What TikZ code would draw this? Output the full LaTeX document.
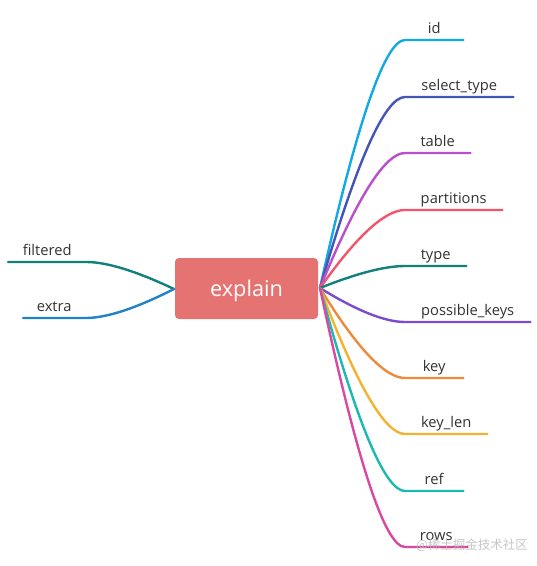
\documentclass[tikz,border=0pt]{standalone}
\usepackage{fontspec}
\setmainfont{Open Sans}
\newfontfamily\cjk{Noto Sans CJK SC}
\definecolor{cid}{HTML}{13A9E2}
\definecolor{csel}{HTML}{4356B5}
\definecolor{ctab}{HTML}{BA4FCB}
\definecolor{cpart}{HTML}{F2566C}
\definecolor{ctype}{HTML}{12807C}
\definecolor{cposs}{HTML}{7A4DCA}
\definecolor{ckey}{HTML}{F08A3B}
\definecolor{ckeylen}{HTML}{F5B231}
\definecolor{cref}{HTML}{1BB9B1}
\definecolor{crows}{HTML}{D9499F}
\definecolor{cextra}{HTML}{2182C6}
\definecolor{cbox}{HTML}{E57372}
\definecolor{ctext}{HTML}{333333}
\begin{document}
\begin{tikzpicture}[x=1pt,y=-1pt,
  leaf/.style={inner xsep=0pt,inner ysep=0pt,text height=11pt,text depth=6pt,
    anchor=south west,align=center,text=ctext,font=\fontsize{14.7}{17}\selectfont},
  br/.style={line width=2.4pt,line cap=round}]
\useasboundingbox[fill=white] (0,0) rectangle (537,566);
\node[fill=cbox,rounded corners=4pt,minimum width=143pt,minimum height=61pt,inner sep=0pt,
  text height=15pt,text depth=-4pt,
  text=white,font=\fontsize{21.7}{26}\selectfont] (root) at (246.5,288.5) {explain};
\coordinate (rs) at (320,288);
\coordinate (ls) at (174,289);
% right leaves
\node[leaf,minimum width=58pt] (id) at (405,40) {id};
\node[leaf,minimum width=108pt] (sel) at (405,97) {select\_type};
\node[leaf,minimum width=65pt] (tab) at (405,153) {table};
\node[leaf,minimum width=97pt] (part) at (405,210) {partitions};
\node[leaf,minimum width=61pt] (typ) at (405,266) {type};
\node[leaf,minimum width=125pt] (poss) at (405,322) {possible\_keys};
\node[leaf,minimum width=58pt] (key) at (405,378) {key};
\node[leaf,minimum width=82pt] (keylen) at (405,434) {key\_len};
\node[leaf,minimum width=58pt] (ref) at (405,491) {ref};
\node[leaf,minimum width=62pt] (rows) at (405,547) {rows};
% left leaves
\node[leaf,minimum width=78pt] (filt) at (8,262) {filtered};
\node[leaf,minimum width=62pt] (extra) at (23,318) {extra};
% right branches
\draw[br,cid] (rs) .. controls (356.7,122.7) and (385,40) .. (id.south west) -- (id.south east);
\draw[br,csel] (rs) .. controls (356.7,160.7) and (385,97) .. (sel.south west) -- (sel.south east);
\draw[br,ctab] (rs) .. controls (356.7,198) and (385,153) .. (tab.south west) -- (tab.south east);
\draw[br,cpart] (rs) .. controls (356.7,236) and (385,210) .. (part.south west) -- (part.south east);
\draw[br,ctype] (rs) .. controls (356.7,273.3) and (385,266) .. (typ.south west) -- (typ.south east);
\draw[br,cposs] (rs) .. controls (356.7,310.7) and (385,322) .. (poss.south west) -- (poss.south east);
\draw[br,ckey] (rs) .. controls (356.7,348) and (385,378) .. (key.south west) -- (key.south east);
\draw[br,ckeylen] (rs) .. controls (356.7,385.3) and (385,434) .. (keylen.south west) -- (keylen.south east);
\draw[br,cref] (rs) .. controls (356.7,423.3) and (385,491) .. (ref.south west) -- (ref.south east);
\draw[br,crows] (rs) .. controls (356.7,460.7) and (385,547) .. (rows.south west) -- (rows.south east);
% left branches
\draw[br,ctype] (filt.south west) -- (filt.south east) .. controls (106.7,262) and (136,271) .. (ls);
\draw[br,cextra] (extra.south west) -- (extra.south east) .. controls (106.7,318) and (136,308.3) .. (ls);
% watermark
\node[text=gray!55,opacity=0.8,inner sep=0pt,font=\cjk\fontsize{12.5}{15}\selectfont] (wm) at (472,545) {@稀土掘金技术社区};
\end{tikzpicture}
\end{document}
